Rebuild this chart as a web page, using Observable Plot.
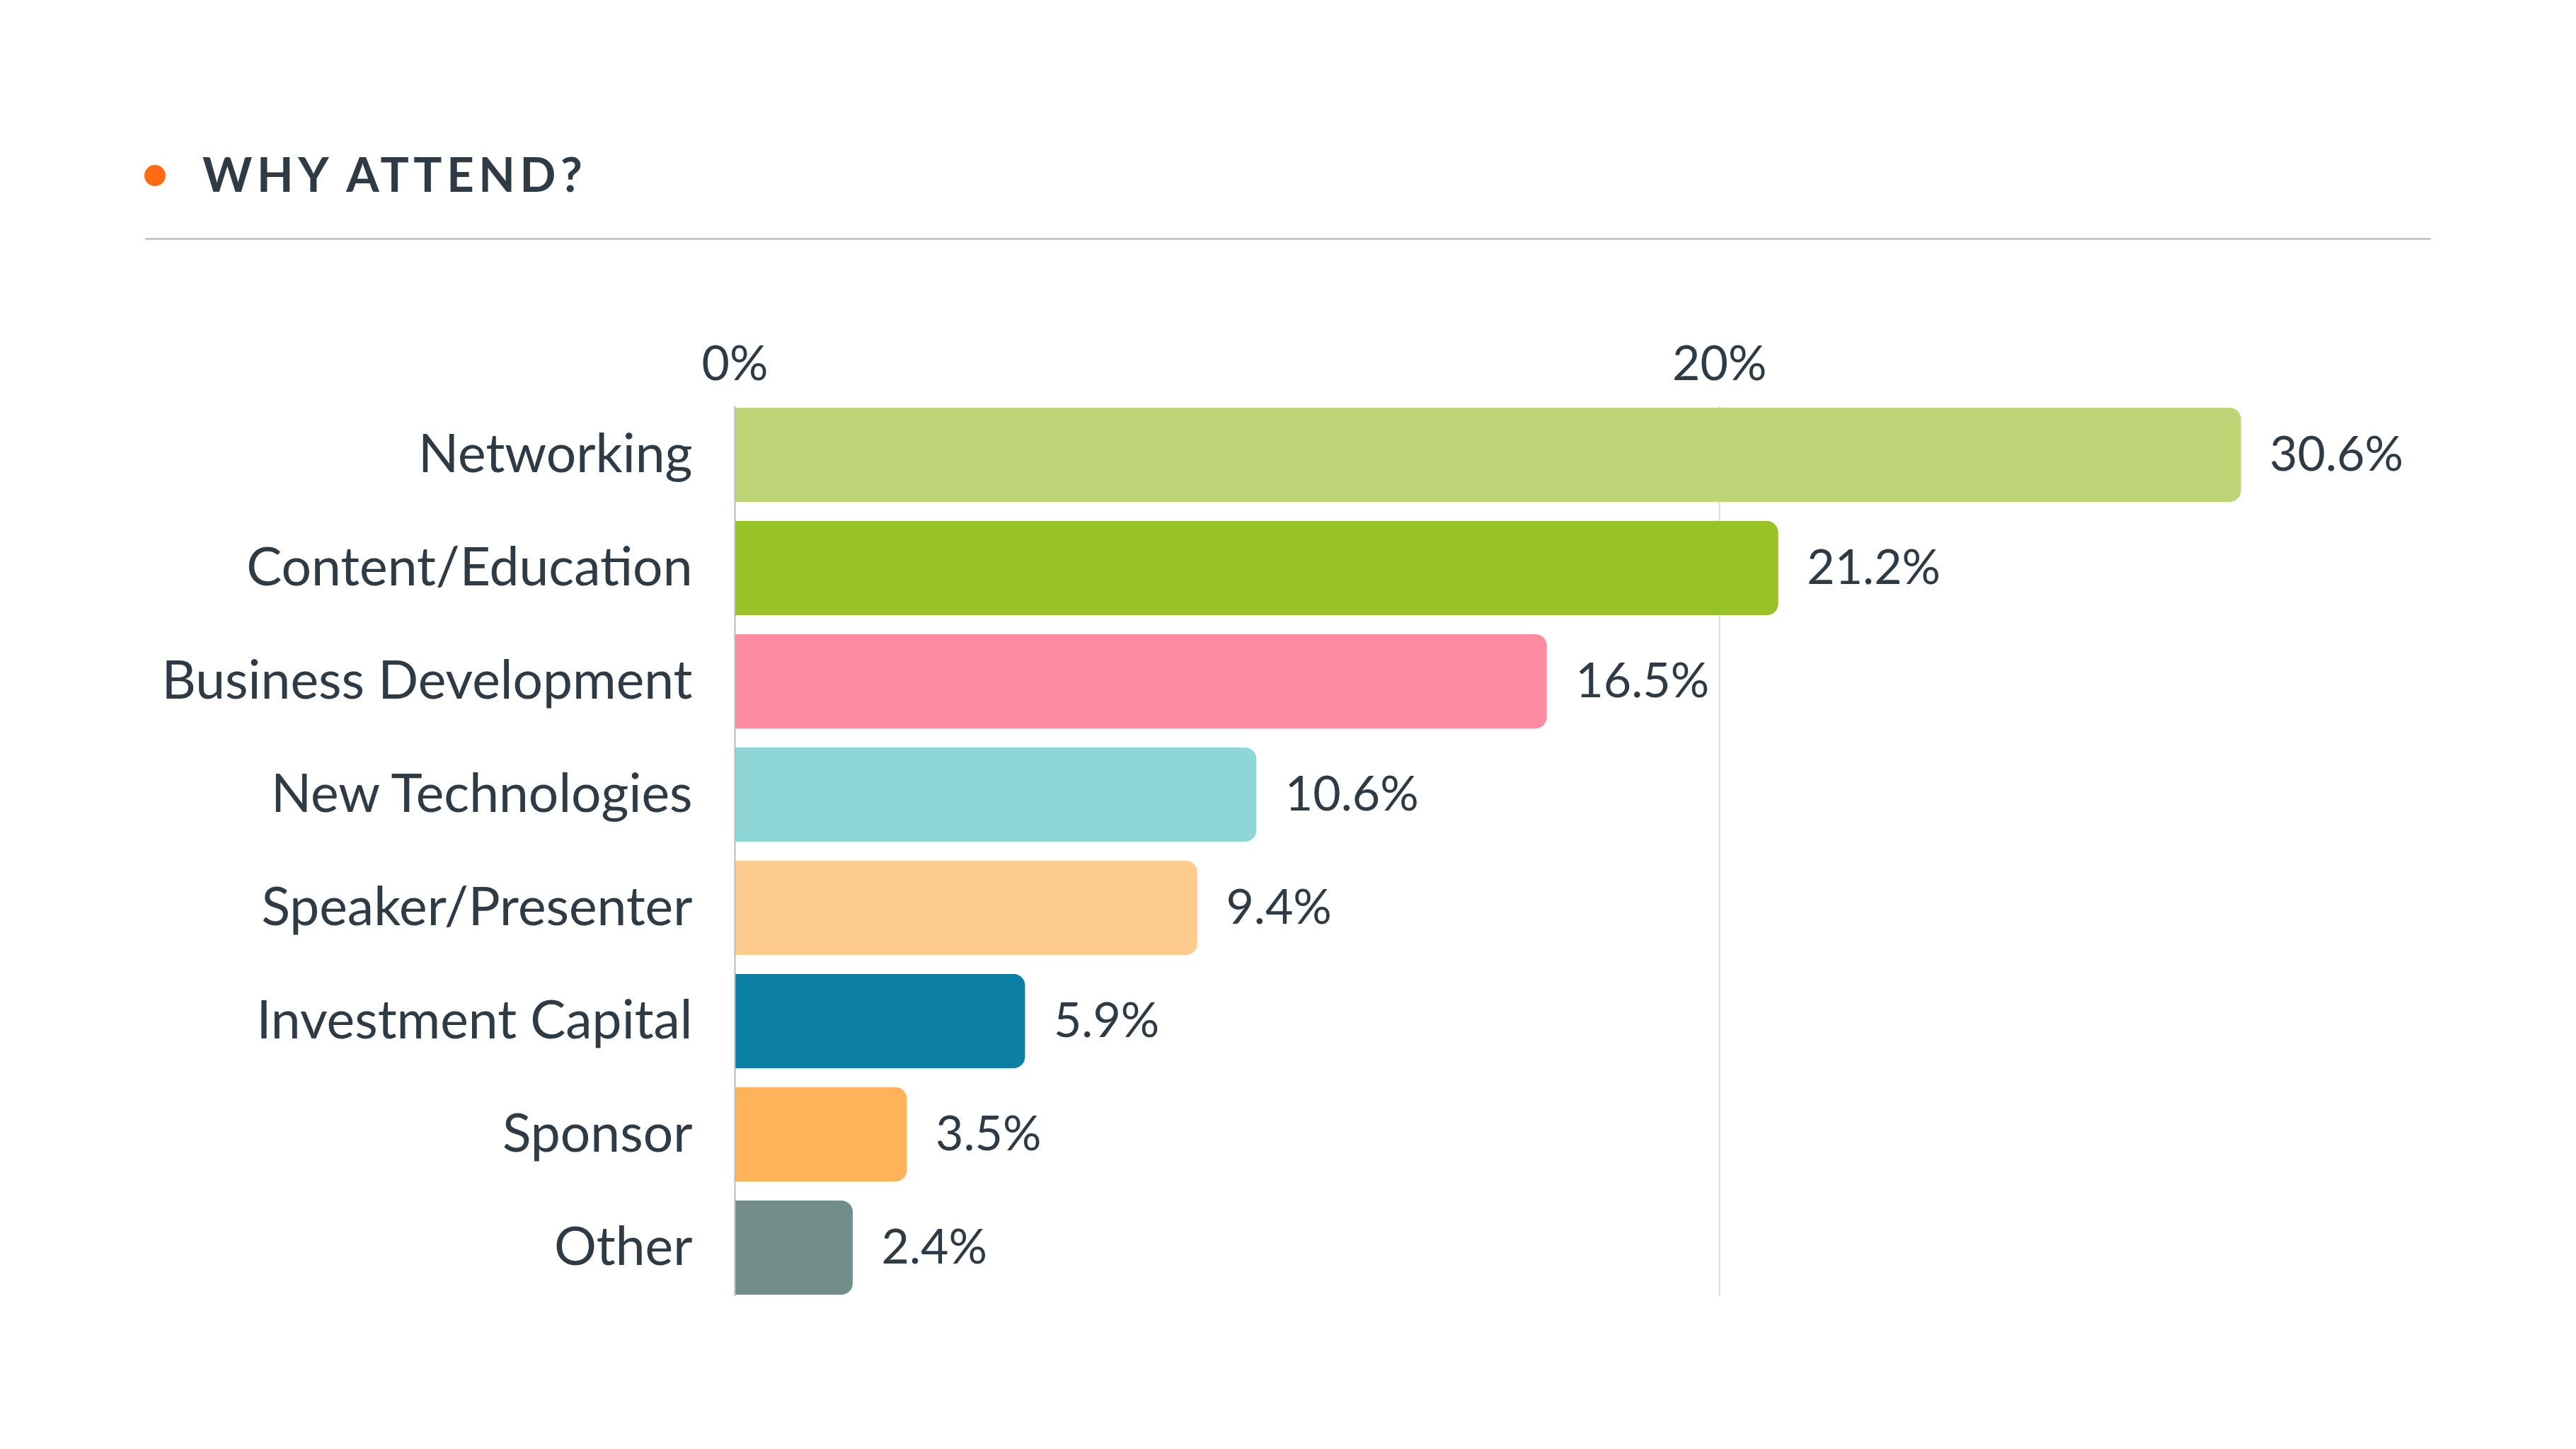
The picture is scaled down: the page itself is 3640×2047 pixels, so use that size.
<!DOCTYPE html>
<html>
<head>
<meta charset="utf-8">
<script src="https://cdn.jsdelivr.net/npm/d3@7"></script>
<script src="https://cdn.jsdelivr.net/npm/@observablehq/plot@0.6"></script>
<style>
  html, body { margin: 0; padding: 0; background: #ffffff; }
  body { width: 3640px; height: 2047px; overflow: hidden; font-family: Lato, "Noto Sans", sans-serif; }
  #header { position: relative; height: 400px; }
  #dot { position: absolute; left: 204px; top: 233px; width: 30px; height: 30px; border-radius: 50%; background: #ff6a13; }
  #title { position: absolute; left: 286px; top: 212px; font-family: Lato, sans-serif; font-weight: 700; font-size: 67px; line-height: 1; letter-spacing: 6.6px; color: #2e3b45; white-space: nowrap; }
  #rule { position: absolute; left: 205px; top: 336px; width: 3230px; height: 3px; background: #c5c9cd; }
  #chart svg { display: block; }
</style>
</head>
<body>
<div id="header">
  <div id="dot"></div>
  <div id="title">WHY ATTEND?</div>
  <div id="rule"></div>
</div>
<div id="chart"></div>
<script>
const categories = ["Networking", "Content/Education", "Business Development", "New Technologies", "Speaker/Presenter", "Investment Capital", "Sponsor", "Other"];
const values = [30.6, 21.2, 16.5, 10.6, 9.4, 5.9, 3.5, 2.4];
const colors = ["#bfd477", "#99c226", "#ff8ba0", "#8fd7d6", "#fecc8e", "#0b80a3", "#feb35a", "#718e8b"];
const xTicks = [0, 20];

const data = categories.map((c, i) => ({cat: c, value: values[i]}));
const ink = "#2e3b45";

const chart = Plot.plot({
  width: 3640,
  height: 1647,
  marginLeft: 1038,
  marginRight: 376,
  marginTop: 174,
  marginBottom: 216,
  style: {fontFamily: "Lato, 'Noto Sans', sans-serif", color: ink, background: "#ffffff"},
  x: {domain: [0, 32]},
  y: {domain: categories, paddingInner: 0.168, paddingOuter: 0},
  color: {domain: categories, range: colors},
  marks: [
    Plot.ruleX([20], {stroke: "#dcdcdc", strokeWidth: 2}),
    Plot.barX(data, {x: "value", y: "cat", fill: "cat", rx: 16}),
    Plot.barX(data, {x1: 0, x2: d => d.value / 2, y: "cat", fill: "cat"}),
    Plot.ruleX([0], {stroke: "#b5bcc0", strokeWidth: 2}),
    Plot.axisX(xTicks, {anchor: "top", tickSize: 0, tickPadding: 38, tickFormat: d => d + "%", fontSize: 68, fill: ink, label: null}),
    Plot.axisY({tickSize: 0, tickPadding: 60, fontSize: 75, fill: ink, label: null}),
    Plot.text(data, {x: "value", y: "cat", text: d => d.value.toFixed(1) + "%", dx: 40, textAnchor: "start", fontSize: 68, fill: ink})
  ]
});
document.getElementById("chart").appendChild(chart);
</script>
</body>
</html>
